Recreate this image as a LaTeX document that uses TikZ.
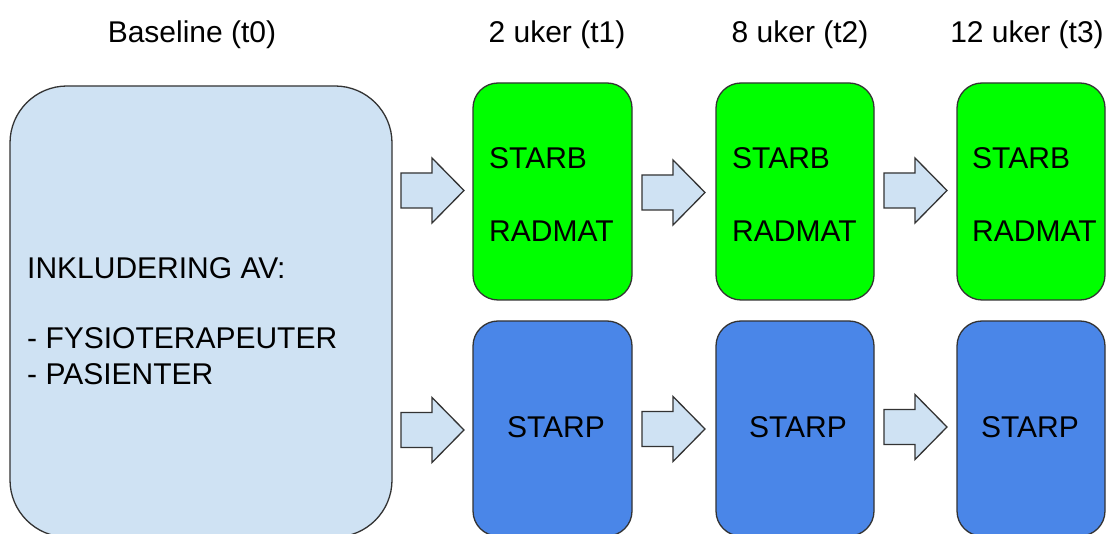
\documentclass[tikz,border=0pt]{standalone}
\usepackage{fontspec}
\setmainfont{Liberation Sans}
\definecolor{paleblue}{HTML}{CFE2F3}
\definecolor{brightgreen}{HTML}{00FF00}
\definecolor{midblue}{HTML}{4A86E8}
\definecolor{edgegray}{HTML}{333333}
\tikzset{
  box/.style={draw=edgegray, line width=1.3pt, rounded corners=25pt, inner sep=0pt},
  greenbox/.style={box, fill=brightgreen, minimum height=217pt},
  bluebox/.style={box, fill=midblue, minimum height=215pt},
  blockarrow/.style={draw=edgegray, fill=paleblue, line width=1.3pt, line join=miter},
  lbl/.style={inner sep=0pt, font=\fontsize{30}{36}\selectfont},
}
\begin{document}
\begin{tikzpicture}[x=1pt,y=-1pt]
        \clip (0,0) rectangle (1106,534);
        \fill[white] (0,0) rectangle (1106,534);
        % baseline box
        \node[box, fill=paleblue, rounded corners=57pt, minimum width=382pt, minimum height=451pt] (base) at (201,311.5) {};
        % follow-up boxes
        \node[greenbox, minimum width=159pt] (g1) at (552.5,191.5) {};
        \node[greenbox, minimum width=158pt] (g2) at (795,191.5) {};
        \node[greenbox, minimum width=148pt] (g3) at (1031,191.5) {};
        \node[bluebox, minimum width=159pt] (p1) at (552.5,428.5) {};
        \node[bluebox, minimum width=158pt] (p2) at (795,428.5) {};
        \node[bluebox, minimum width=148pt] (p3) at (1031,428.5) {};
        % block arrows
        \foreach \x/\y in {401/190.5, 642/192.5, 884/190.5, 401/430, 642/429, 884/427}
          \draw[blockarrow] (\x,\y-17.5) -- (\x+31,\y-17.5) -- (\x+31,\y-32.5) -- (\x+63,\y)
            -- (\x+31,\y+32.5) -- (\x+31,\y+17.5) -- (\x,\y+17.5) -- cycle;
        % headings
        \node[lbl, anchor=base] (h0) at (192,43) {Baseline (t0)};
        \node[lbl, anchor=base] (h1) at (557,43) {2 uker (t1)};
        \node[lbl, anchor=base] (h2) at (800,43) {8 uker (t2)};
        \node[lbl, anchor=base] (h3) at (1027,43) {12 uker (t3)};
        % texts
        \node[lbl, anchor=base west] (inkl) at (27,279) {INKLUDERING AV:};
        \node[lbl, anchor=base west] (fys) at (27,349) {- FYSIOTERAPEUTER};
        \node[lbl, anchor=base west] (pas) at (27,385) {- PASIENTER};
        \foreach \n/\x in {1/489, 2/732, 3/972} {
          \node[lbl, anchor=base west] (starb\n) at (\x,169) {STARB};
          \node[lbl, anchor=base west] (radmat\n) at (\x,242) {RADMAT};
        }
        \foreach \n/\x in {1/556, 2/798, 3/1030}
          \node[lbl, anchor=base] (starp\n) at (\x,438) {STARP};
      \end{tikzpicture}
\end{document}
